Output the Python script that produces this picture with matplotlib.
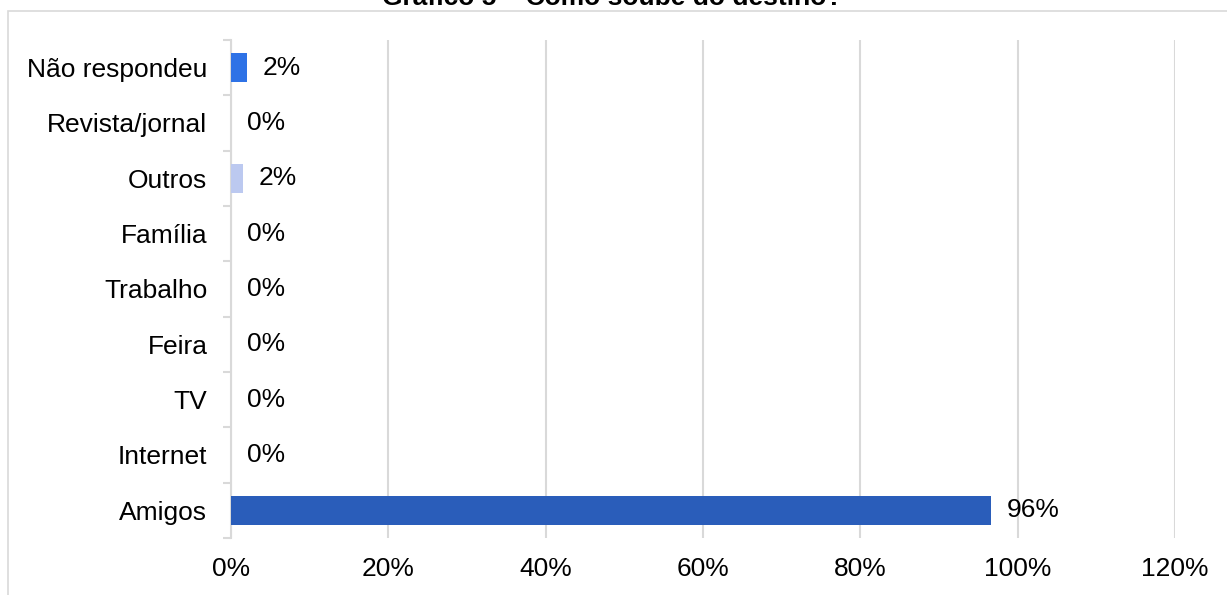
import matplotlib
matplotlib.use('Agg')
import matplotlib.pyplot as plt
from matplotlib.patches import Rectangle
from matplotlib.ticker import PercentFormatter, FixedLocator

plt.rcParams['font.family'] = ['Liberation Sans', 'DejaVu Sans']

categorias = ['Amigos', 'Internet', 'TV', 'Feira', 'Trabalho', 'Família',
              'Outros', 'Revista/jornal', 'Não respondeu']
valores = [0.966, 0.0, 0.0, 0.0, 0.0, 0.0, 0.015, 0.0, 0.02]
rotulos = ['96%', '0%', '0%', '0%', '0%', '0%', '2%', '0%', '2%']
cores = ['#2A5DBA', '#2A5DBA', '#2A5DBA', '#2A5DBA', '#2A5DBA', '#2A5DBA',
         '#BCC9F0', '#2A5DBA', '#2E72E6']
xticks = [0, 0.2, 0.4, 0.6, 0.8, 1.0, 1.2]

fig = plt.figure(figsize=(12.27, 5.95), dpi=100)
ax = fig.add_axes([0.1883, 0.0958, 0.7693, 0.837])

pos = list(range(len(categorias)))
ax.barh(pos, valores, height=0.53, color=cores, zorder=3)

for p, v, r in zip(pos, valores, rotulos):
    ax.text(v + 0.02, p, r, va='center', ha='left', fontsize=19, zorder=4)

ax.set_xlim(0, 1.2)
ax.set_ylim(-0.5, len(categorias) - 0.5)
ax.set_xticks(xticks)
ax.xaxis.set_major_formatter(PercentFormatter(1.0, decimals=0))
ax.set_yticks(pos)
ax.set_yticklabels(categorias)
ax.yaxis.set_minor_locator(FixedLocator([p - 0.5 for p in pos] + [len(pos) - 0.5]))

ax.grid(axis='x', color='#D9D9D9', linewidth=1.5, zorder=0)
for s in ['top', 'right', 'bottom']:
    ax.spines[s].set_visible(False)
ax.spines['left'].set_color('#D9D9D9')
ax.spines['left'].set_linewidth(1.5)

ax.tick_params(axis='x', length=0, labelsize=19, pad=14)
ax.tick_params(axis='y', which='major', length=0, labelsize=19, pad=17)
ax.tick_params(axis='y', which='minor', length=6, color='#D9D9D9', width=1.5)

# moldura do gráfico
fig.patches.append(Rectangle((8 / 1227, -0.1), 1.2, 1 - 11 / 595 + 0.1,
                             transform=fig.transFigure, fill=False,
                             edgecolor='#D9D9D9', linewidth=1.2))

fig.text(612 / 1227, 1 - 5 / 595, 'Gráfico 5 – Como soube do destino?',
         ha='center', va='baseline', fontsize=19, fontweight='bold')

fig.savefig('out.png', dpi=100)
